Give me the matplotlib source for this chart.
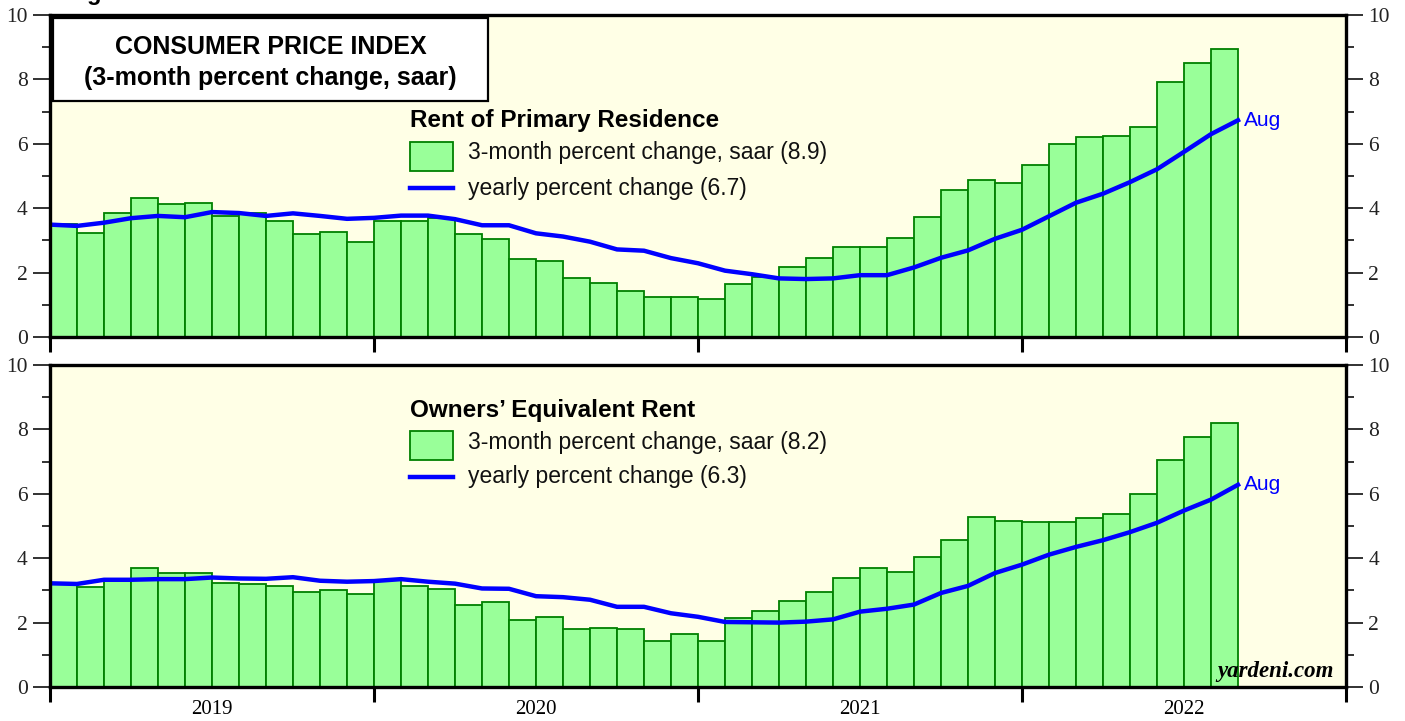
import numpy as np
import pandas as pd
import matplotlib
matplotlib.use('Agg')
import matplotlib.pyplot as plt
from matplotlib.patches import Rectangle
from matplotlib.lines import Line2D

# monthly bars Jan 2019 .. Aug 2022
months = pd.period_range('2019-01', '2022-08', freq='M')
years = ['2019', '2020', '2021', '2022']

# Rent of primary residence
rent_3m = [3.51, 3.23, 3.86, 4.32, 4.14, 4.17, 3.75, 3.86, 3.61, 3.19, 3.25, 2.96,
           3.61, 3.60, 3.69, 3.19, 3.03, 2.42, 2.35, 1.84, 1.69, 1.44, 1.25, 1.25,
           1.18, 1.65, 1.87, 2.17, 2.46, 2.79, 2.78, 3.09, 3.74, 4.56, 4.87, 4.77,
           5.35, 6.00, 6.20, 6.25, 6.53, 7.93, 8.51, 8.93]
# yearly % change at month ends, Dec 2018 .. Aug 2022
rent_yoy = [3.49, 3.45, 3.55, 3.69, 3.76, 3.72, 3.88, 3.85, 3.76, 3.84, 3.76, 3.67,
            3.70, 3.77, 3.77, 3.66, 3.47, 3.47, 3.22, 3.12, 2.96, 2.72, 2.68, 2.45,
            2.29, 2.06, 1.95, 1.82, 1.80, 1.82, 1.92, 1.92, 2.16, 2.46, 2.69, 3.05,
            3.33, 3.75, 4.17, 4.45, 4.81, 5.21, 5.75, 6.30, 6.73]

# Owners' equivalent rent
oer_3m = [3.22, 3.12, 3.36, 3.70, 3.53, 3.55, 3.22, 3.19, 3.14, 2.94, 3.02, 2.90,
          3.32, 3.15, 3.04, 2.56, 2.65, 2.09, 2.18, 1.79, 1.84, 1.80, 1.44, 1.65,
          1.42, 2.14, 2.37, 2.66, 2.94, 3.40, 3.71, 3.58, 4.03, 4.57, 5.27, 5.15,
          5.13, 5.13, 5.24, 5.37, 5.98, 7.06, 7.75, 8.20]
oer_yoy = [3.22, 3.20, 3.33, 3.33, 3.35, 3.35, 3.40, 3.37, 3.36, 3.41, 3.30, 3.27,
           3.29, 3.35, 3.27, 3.21, 3.06, 3.05, 2.82, 2.79, 2.71, 2.49, 2.49, 2.29,
           2.18, 2.02, 2.01, 2.00, 2.03, 2.10, 2.34, 2.43, 2.56, 2.92, 3.14, 3.54,
           3.80, 4.11, 4.35, 4.56, 4.81, 5.10, 5.48, 5.82, 6.28]

SANS = 'Liberation Sans'
SERIF = 'Liberation Serif'
BG = '#FFFFE6'
FILL = '#99FF99'
EDGE = '#008000'
BLUE = '#0000FF'

FW, FH = 1405, 721
AX_L, AX_R = 50, 1346
AX_W, AX_H = AX_R - AX_L, 322

fig = plt.figure(figsize=(FW / 100, FH / 100), dpi=100)
fig.patch.set_facecolor('white')


def px(ax_top, x, y):
    # pixel position -> axes fraction
    return (x - AX_L) / AX_W, 1 - (y - ax_top) / AX_H


def panel(ax_top, bars, yoy, name, bar_lab, line_lab, leg_y, xlabels):
    ax = fig.add_axes([AX_L / FW, 1 - (ax_top + AX_H) / FH, AX_W / FW, AX_H / FH])
    ax.set_facecolor(BG)
    xb = np.arange(len(bars))
    ax.bar(xb, bars, width=1, align='edge', color=FILL, edgecolor=EDGE,
           linewidth=1.3, zorder=2)
    xl = np.arange(len(yoy))
    ax.plot(xl, yoy, color=BLUE, lw=3.2, zorder=3, solid_joinstyle='round')
    ax.annotate('Aug', (xl[-1], yoy[-1]), xytext=(4, 0), textcoords='offset points',
                color=BLUE, fontsize=15, family=SANS, va='center', ha='left')

    ax.set_xlim(0, 12 * len(years))
    ax.set_ylim(0, 10)
    for s in ax.spines.values():
        s.set_linewidth(2.4)
        s.set_zorder(5)

    jan = [i for i, m in enumerate(months) if m.month == 1] + [12 * len(years)]
    ax.set_xticks(jan)
    ax.set_xticklabels([])
    ax.tick_params(axis='x', which='major', direction='out', length=11, width=2.2,
                   color='black')
    if xlabels:
        ax.set_xticks([j + 6 for j in jan[:-1]], minor=True)
        ax.set_xticklabels(years, minor=True, family=SERIF, fontsize=15)
        ax.tick_params(axis='x', which='minor', length=0, pad=9)

    ax.set_yticks(range(0, 11, 2))
    ax.set_yticks(range(0, 11), minor=True)
    ax.tick_params(axis='y', which='both', direction='out', left=True, right=True,
                   labelleft=True, labelright=True, color='#222222', width=1.3)
    ax.tick_params(axis='y', which='major', length=12, pad=4)
    ax.tick_params(axis='y', which='minor', length=6)
    for lab in ax.get_yticklabels():
        lab.set_family(SERIF)
        lab.set_fontsize(15.5)
        lab.set_color('#222222')

    # hand-made legend
    tx, ty = px(ax_top, 410, leg_y)
    ax.text(tx, ty, name, transform=ax.transAxes, family=SANS, fontsize=17.5,
            fontweight='bold', va='center', ha='left', zorder=6)
    x0, y0 = px(ax_top, 410, leg_y + 50)
    x1, y1 = px(ax_top, 453, leg_y + 21)
    ax.add_patch(Rectangle((x0, y0), x1 - x0, y1 - y0, transform=ax.transAxes,
                           facecolor=FILL, edgecolor=EDGE, lw=1.3, zorder=6))
    lx, ly = px(ax_top, 468, leg_y + 32)
    ax.text(lx, ly, bar_lab, transform=ax.transAxes, family=SANS, fontsize=16.5,
            va='center', ha='left', color='#111111', zorder=6)
    _, yl = px(ax_top, 0, leg_y + 67)
    ax.add_line(Line2D([x0, x1], [yl, yl], transform=ax.transAxes, color=BLUE,
                       lw=3.2, zorder=6))
    ax.text(lx, yl, line_lab, transform=ax.transAxes, family=SANS, fontsize=16.5,
            va='center', ha='left', color='#111111', zorder=6)
    return ax


top = panel(15, rent_3m, rent_yoy, 'Rent of Primary Residence',
            '3-month percent change, saar (8.9)', 'yearly percent change (6.7)',
            121, False)
bot = panel(365, oer_3m, oer_yoy, 'Owners\u2019 Equivalent Rent',
            '3-month percent change, saar (8.2)', 'yearly percent change (6.3)',
            410, True)

# title box
bx0, by0 = px(15, 53, 101)
bx1, by1 = px(15, 488, 18)
top.add_patch(Rectangle((bx0, by0), bx1 - bx0, by1 - by0, transform=top.transAxes,
                        facecolor='white', edgecolor='black', lw=1.6, zorder=6))
cx = (bx0 + bx1) / 2
top.text(cx, px(15, 0, 47)[1], 'CONSUMER PRICE INDEX', transform=top.transAxes,
         family=SANS, fontsize=18, fontweight='bold', ha='center', va='center', zorder=7)
top.text(cx, px(15, 0, 78)[1], '(3-month percent change, saar)', transform=top.transAxes,
         family=SANS, fontsize=18, fontweight='bold', ha='center', va='center', zorder=7)

bot.text(px(365, 1334, 0)[0], px(365, 0, 672)[1], 'yardeni.com', transform=bot.transAxes,
         family=SERIF, fontsize=16.5, fontweight='bold', style='italic',
         ha='right', va='center', zorder=6)

# heading cut off at the top edge
fig.text(66 / FW, 1.0, 'Fig', family=SANS, fontsize=17, fontweight='bold',
         ha='left', va='baseline')

fig.savefig('out.png', dpi=100, facecolor='white')
